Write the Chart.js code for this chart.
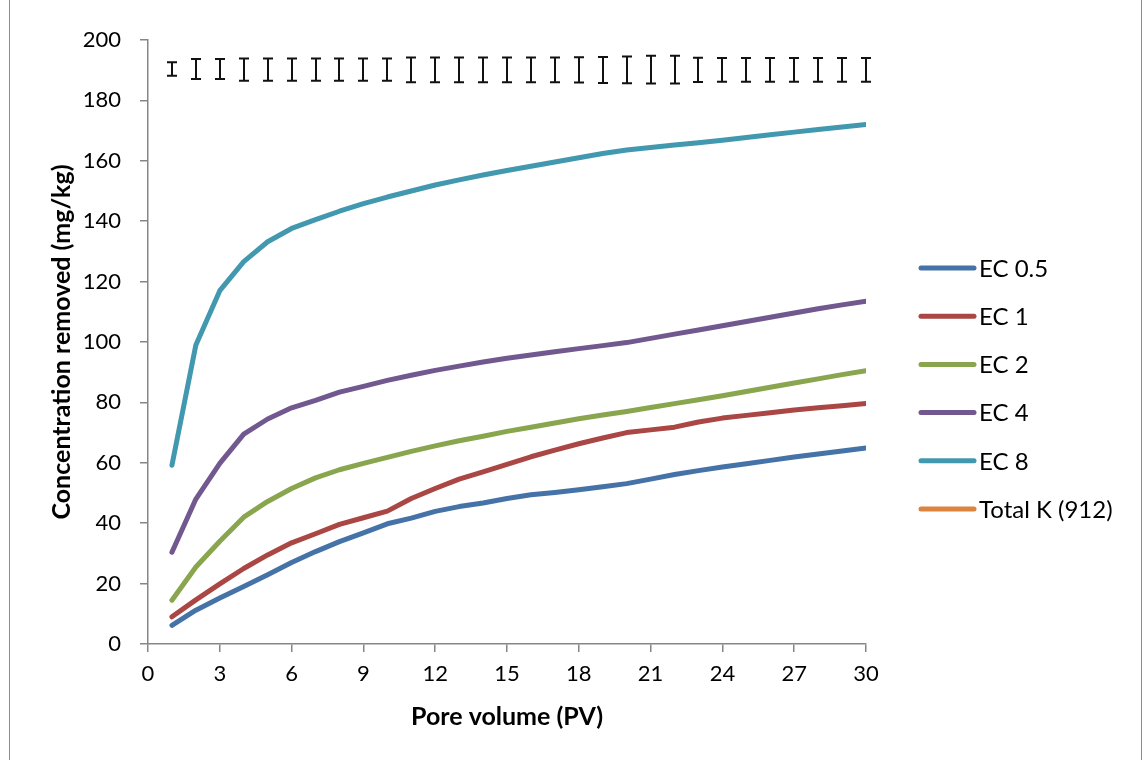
<!DOCTYPE html>
<html>
<head>
<meta charset="utf-8">
<script src="https://cdn.jsdelivr.net/npm/chart.js@4.4.0/dist/chart.umd.min.js"></script>
<style>
  html, body { margin: 0; padding: 0; background: #fff; overflow: hidden; }
  #frame { position: absolute; left: 9px; top: -1px; width: 1131px; height: 770px; border: 1px solid #8c8c8c; }
  #chart { position: absolute; left: 0; top: 0; }
</style>
</head>
<body>
<div id="frame"></div>
<canvas id="chart" width="1144" height="760"></canvas>
<script>
// pore volume (x)
const poreVolume = [1, 2, 3, 4, 5, 6, 7, 8, 9, 10, 11, 12, 13, 14, 15, 16, 17, 18, 19, 20, 21, 22, 23, 24, 25, 26, 27, 28, 29, 30];

// concentration removed (mg/kg)
const ec05 = [6.2, 11.2, 15.2, 19.0, 22.9, 27.0, 30.6, 33.9, 36.8, 39.8, 41.7, 43.9, 45.5, 46.7, 48.2, 49.4, 50.2, 51.1, 52.1, 53.1, 54.6, 56.1, 57.4, 58.6, 59.7, 60.8, 61.9, 62.9, 63.9, 64.9];
const ec1 = [9.0, 14.6, 19.9, 25.0, 29.5, 33.5, 36.5, 39.6, 41.8, 44.0, 48.2, 51.5, 54.6, 57.0, 59.5, 62.0, 64.2, 66.3, 68.2, 70.0, 70.9, 71.8, 73.5, 74.8, 75.7, 76.6, 77.5, 78.2, 78.9, 79.6];
const ec2 = [14.5, 25.5, 34.0, 42.0, 47.2, 51.5, 55.0, 57.7, 59.8, 61.8, 63.8, 65.6, 67.3, 68.8, 70.4, 71.8, 73.2, 74.6, 75.8, 77.0, 78.3, 79.6, 80.9, 82.2, 83.6, 85.0, 86.4, 87.8, 89.2, 90.5];
const ec4 = [30.4, 48.0, 59.8, 69.5, 74.5, 78.2, 80.7, 83.4, 85.3, 87.3, 89.0, 90.6, 92.0, 93.4, 94.6, 95.7, 96.8, 97.8, 98.8, 99.8, 101.2, 102.6, 104.0, 105.4, 106.8, 108.2, 109.6, 111.0, 112.3, 113.5];
const ec8 = [59.2, 99.0, 117.0, 126.6, 133.2, 137.6, 140.5, 143.3, 145.8, 148.0, 150.0, 152.0, 153.7, 155.3, 156.8, 158.2, 159.6, 161.0, 162.4, 163.6, 164.4, 165.2, 166.0, 166.8, 167.7, 168.6, 169.5, 170.4, 171.2, 172.0];
const totalK = [912, 912, 912, 912, 912, 912, 912, 912, 912, 912, 912, 912, 912, 912, 912, 912, 912, 912, 912, 912, 912, 912, 912, 912, 912, 912, 912, 912, 912, 912];

// error bars drawn near the top of the plot
const errMean = [190.4, 190.4, 190.4, 190.2, 190.2, 190.2, 190.2, 190.2, 190.2, 190.2, 190.1, 190.1, 190.1, 190.1, 190.1, 190.1, 190.1, 190.1, 190.1, 190.1, 190.2, 190.2, 190.1, 190.1, 190.1, 190.1, 190.1, 190.1, 190.1, 190.1];
const errSize = [2.2, 3.3, 3.3, 3.7, 3.7, 3.7, 3.7, 3.7, 3.7, 3.7, 4.1, 4.1, 4.1, 4.1, 4.1, 4.1, 4.1, 4.2, 4.3, 4.4, 4.6, 4.6, 4.0, 3.9, 3.9, 3.9, 3.9, 3.9, 3.9, 3.9];

const seriesNames = ['EC 0.5', 'EC 1', 'EC 2', 'EC 4', 'EC 8', 'Total K (912)'];
const seriesColors = ['#4572A7', '#AA4643', '#89A54E', '#71588F', '#4198AF', '#DB843D'];
const xTicks = [0, 3, 6, 9, 12, 15, 18, 21, 24, 27, 30];

const FONT = 'Lato, "Open Sans", sans-serif';
const AXIS_GREY = '#868686';

function toPoints(values) {
    return poreVolume.map((pv, i) => ({ x: pv, y: values[i] }));
}

let allSeries = [ec05, ec1, ec2, ec4, ec8, totalK];
let datasets = allSeries.map((values, i) => ({
    label: seriesNames[i],
    data: toPoints(values),
    borderColor: seriesColors[i],
    backgroundColor: seriesColors[i],
    borderWidth: 5,
    borderCapStyle: 'round',
    borderJoinStyle: 'round',
    pointRadius: 0,
    tension: 0,
    fill: false
}));

// draws the black error bars through the chart's scales
const errorBars = {
    id: 'errorBars',
    afterDatasetsDraw(chart) {
        let ctx = chart.ctx;
        let xs = chart.scales.x;
        let ys = chart.scales.y;
        ctx.save();
        ctx.strokeStyle = '#111';
        ctx.lineWidth = 2;
        poreVolume.forEach((pv, i) => {
            let px = Math.round(xs.getPixelForValue(pv));
            let top = ys.getPixelForValue(errMean[i] + errSize[i]);
            let bot = ys.getPixelForValue(errMean[i] - errSize[i]);
            ctx.beginPath();
            ctx.moveTo(px, top);
            ctx.lineTo(px, bot);
            ctx.moveTo(px - 5, top);
            ctx.lineTo(px + 5, top);
            ctx.moveTo(px - 5, bot);
            ctx.lineTo(px + 5, bot);
            ctx.stroke();
        });
        ctx.restore();
    }
};

// Excel-style legend to the right of the plot, built from the datasets
const sideLegend = {
    id: 'sideLegend',
    afterDraw(chart) {
        let ctx = chart.ctx;
        let area = chart.chartArea;
        let x0 = area.right + 55;
        let y0 = 268;
        let step = 48.2;
        ctx.save();
        ctx.font = '24px ' + FONT;
        ctx.textBaseline = 'middle';
        ctx.fillStyle = '#000';
        ctx.lineCap = 'round';
        ctx.lineWidth = 5;
        chart.data.datasets.forEach((ds, i) => {
            let y = y0 + i * step;
            ctx.strokeStyle = ds.borderColor;
            ctx.beginPath();
            ctx.moveTo(x0, y);
            ctx.lineTo(x0 + 53, y);
            ctx.stroke();
            ctx.fillText(ds.label, x0 + 58, y + 1);
        });
        ctx.restore();
    }
};

let config = {
    type: 'line',
    data: { datasets: datasets },
    options: {
        responsive: false,
        animation: false,
        devicePixelRatio: 1,
        layout: { padding: { left: 46, right: 278, top: 40, bottom: 26 } },
        plugins: {
            tooltip: { enabled: false },
            legend: { display: false }
        },
        scales: {
            x: {
                type: 'linear',
                min: 0,
                max: 30,
                afterBuildTicks: (scale) => { scale.ticks = xTicks.map(v => ({ value: v })); },
                afterFit: (scale) => { scale.height = 90; },
                border: { color: AXIS_GREY, width: 1.5 },
                grid: { drawOnChartArea: false, drawTicks: true, tickLength: 8, color: AXIS_GREY, lineWidth: 1.5 },
                ticks: { color: '#000', font: { family: FONT, size: 22 }, padding: 9, maxRotation: 0 },
                title: { display: true, text: 'Pore volume (PV)', color: '#000', font: { family: FONT, size: 25, weight: 'bold' }, padding: { top: 4, bottom: 2 } }
            },
            y: {
                min: 0,
                max: 200,
                afterFit: (scale) => { scale.width = 148 - 46; },
                border: { color: AXIS_GREY, width: 1.5 },
                grid: { drawOnChartArea: false, drawTicks: true, tickLength: 8, color: AXIS_GREY, lineWidth: 1.5 },
                ticks: { stepSize: 20, color: '#000', font: { family: FONT, size: 22 }, padding: 19 },
                title: { display: true, text: 'Concentration removed (mg/kg)', color: '#000', font: { family: FONT, size: 25, weight: 'bold' }, padding: { top: 1, bottom: 4 } }
            }
        }
    },
    plugins: [errorBars, sideLegend]
};

new Chart(document.getElementById('chart').getContext('2d'), config);
</script>
</body>
</html>
